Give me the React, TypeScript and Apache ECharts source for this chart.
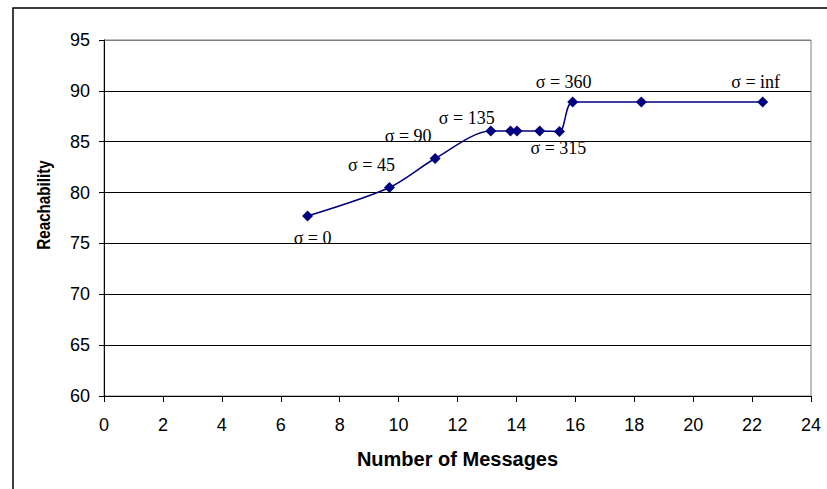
import React, { useEffect, useRef } from "react";
import * as echarts from "echarts";

// Data
const messages = [6.91, 9.69, 11.24, 13.13, 13.8, 14.02, 14.79, 15.46, 15.91, 18.24, 22.36];
const reachability = [77.7, 80.5, 83.35, 86.05, 86.05, 86.05, 86.05, 86.0, 88.9, 88.9, 88.9];
const sigmaLabels = ["σ = 0", "σ = 45", "σ = 90", "σ = 135", "", "", "", "σ = 315", "σ = 360", "", "σ = inf"];
const yTicks = [60, 65, 70, 75, 80, 85, 90, 95];
const xTitle = "Number of Messages";
const yTitle = "Reachability";

// label offsets (layout, px) relative to each point
const labelOffsets: [number, number][] = [
  [5, 22], [-18, -22], [-27, -22], [-24, -13], [0, 0], [0, 0], [0, 0],
  [-1, 16], [-9, -20], [0, 0], [-7, -20],
];

export default function App() {
  const ref = useRef<HTMLDivElement>(null);
  useEffect(() => {
    if (!ref.current) return;
    const chart = echarts.init(ref.current, null, { renderer: "svg" });
    const data = messages.map((x, i) => {
      const item: any = { value: [x, reachability[i]] };
      if (sigmaLabels[i]) {
        item.label = {
          show: true,
          position: "inside",
          offset: labelOffsets[i],
          formatter: sigmaLabels[i],
          color: "#000",
          fontFamily: "Liberation Serif",
          fontSize: 18,
        };
      }
      return item;
    });
    const splitColors = yTicks.map((t, i) => (i === yTicks.length - 1 ? "#808080" : "#000"));
    chart.setOption({
      animation: false,
      backgroundColor: "#fff",
      grid: {
        left: 104,
        top: 40,
        right: 16,
        bottom: 93,
        show: true,
        borderColor: "#808080",
        borderWidth: 1,
        backgroundColor: "transparent",
      },
      graphic: [
        {
          type: "rect",
          shape: { x: 13, y: 8, width: 900, height: 900 },
          style: { fill: "none", stroke: "#000", lineWidth: 1.5 },
          silent: true,
        },
        {
          type: "text",
          x: 43,
          y: 205,
          rotation: Math.PI / 2,
          scaleX: 0.8,
          style: {
            text: yTitle,
            fill: "#000",
            fontSize: 19,
            fontWeight: "bold",
            fontFamily: "Liberation Sans",
            align: "center",
            verticalAlign: "middle",
          },
        },
      ],
      xAxis: {
        type: "value",
        min: 0,
        max: 24,
        interval: 2,
        name: xTitle,
        nameLocation: "middle",
        nameGap: 53,
        nameTextStyle: {
          color: "#000",
          fontSize: 20,
          fontWeight: "bold",
          fontFamily: "Liberation Sans",
        },
        axisLine: { show: true, lineStyle: { color: "#000", width: 1 } },
        axisTick: { show: true, inside: false, length: 6, lineStyle: { color: "#000" } },
        axisLabel: { color: "#000", fontSize: 18, fontFamily: "Liberation Sans", margin: 20 },
        splitLine: { show: false },
      },
      yAxis: {
        type: "value",
        min: 60,
        max: 95,
        interval: 5,
        axisLine: { show: true, lineStyle: { color: "#000", width: 1 } },
        axisTick: { show: true, inside: false, length: 5, lineStyle: { color: "#000" } },
        axisLabel: { color: "#000", fontSize: 18, fontFamily: "Liberation Sans", margin: 14 },
        splitLine: { show: true, lineStyle: { color: splitColors, width: 1 } },
      },
      series: [
        {
          type: "line",
          data,
          smooth: 0.3,
          symbol: "diamond",
          symbolSize: 11,
          itemStyle: { color: "#000080" },
          lineStyle: { color: "#000080", width: 1.5 },
          label: { show: false },
        },
      ],
    });
    return () => chart.dispose();
  }, []);
  return (
    <div
      ref={ref}
      style={{ position: "fixed", left: 0, top: 0, width: 827, height: 489 }}
    />
  );
}
